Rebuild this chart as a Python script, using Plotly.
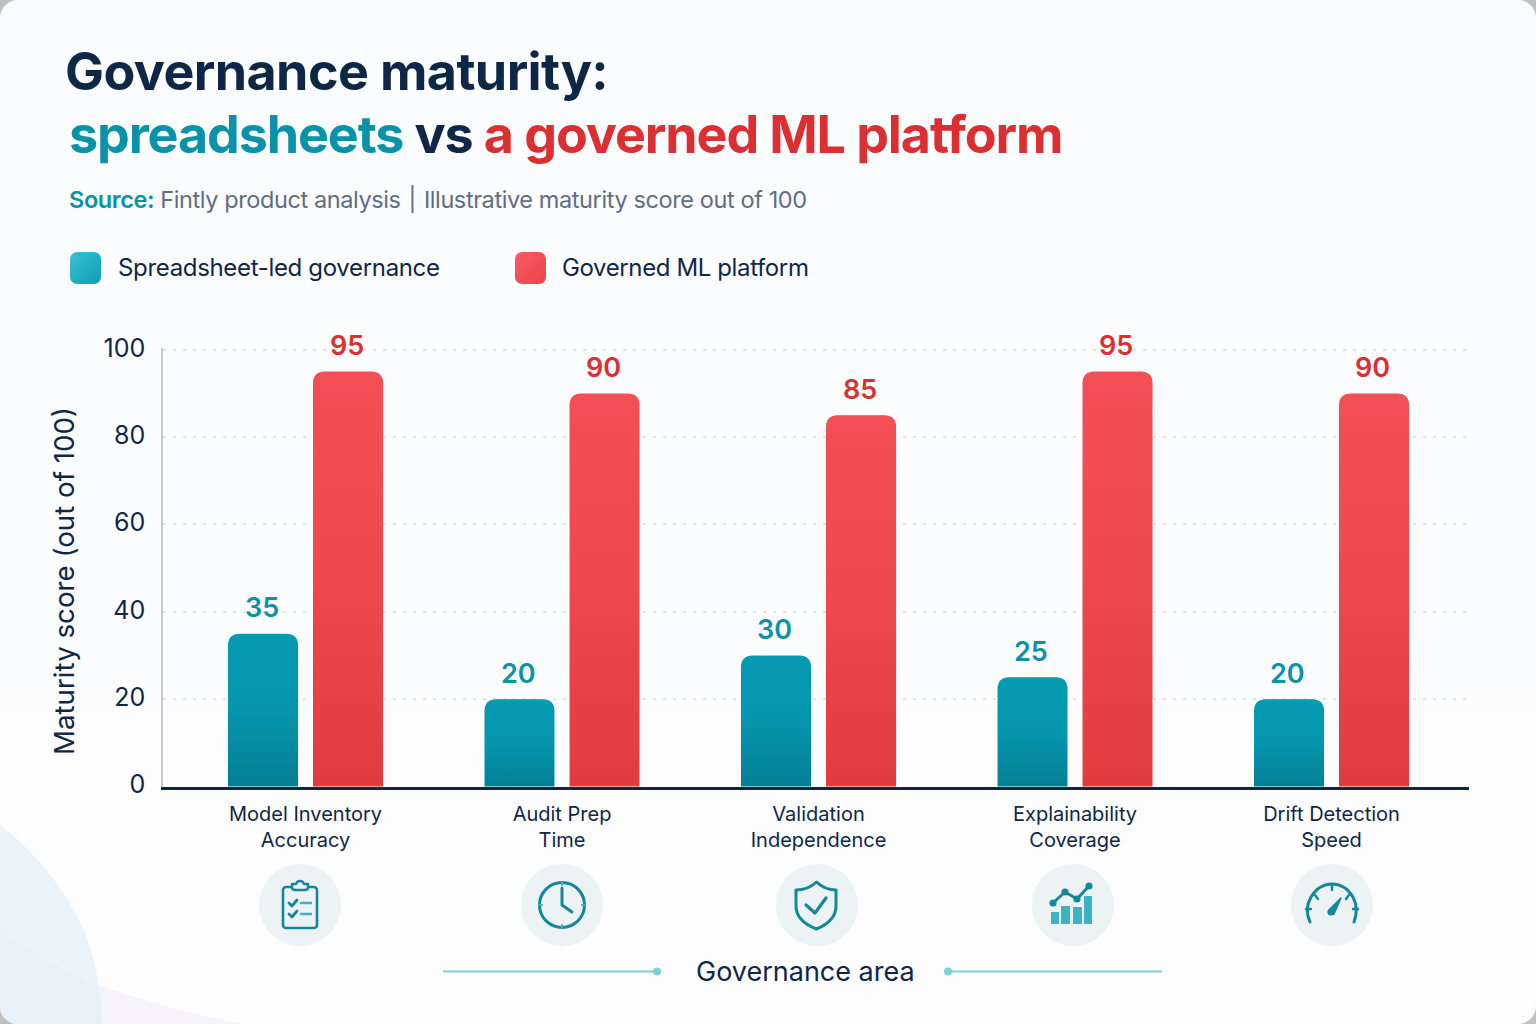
import base64
import plotly.graph_objects as go

categories = ["Model Inventory<br>Accuracy", "Audit Prep<br>Time", "Validation<br>Independence",
              "Explainability<br>Coverage", "Drift Detection<br>Speed"]
spreadsheet_scores = [35, 20, 30, 25, 20]
platform_scores = [95, 90, 85, 95, 90]
y_ticks = [0, 20, 40, 60, 80, 100]

NAVY = "#0F2747"
TEAL = "#0A93A8"
RED = "#DC2F32"
FONT = "Inter"

W, H = 1536, 1024
# plot area in page pixels
LEFT, RIGHT, TOP, BOTTOM = 163, 1469, 348, 787
Y_MIN, Y_MAX = -0.1, 100.4
X_MIN, X_MAX = -0.5556, 4.536
PX_PER_UNIT = (BOTTOM - TOP) / (Y_MAX - Y_MIN)
BAR_PX = 70
OFFSET_PX = 42.5


def px(x):
    return (x - LEFT) / (RIGHT - LEFT)


def py(y):
    return (BOTTOM - y) / (BOTTOM - TOP)


def svg_uri(svg):
    return "data:image/svg+xml;base64," + base64.b64encode(svg.encode()).decode()


def page_image(svg, x, y, w, h, layer="above"):
    return dict(source=svg_uri(svg), xref="paper", yref="paper", x=px(x), y=py(y),
                sizex=w / (RIGHT - LEFT), sizey=h / (BOTTOM - TOP),
                xanchor="left", yanchor="top", sizing="stretch", layer=layer)


def note(text, x, y, size, color=NAVY, anchor="left", weight=400, angle=0, spacing=0):
    if spacing:
        text = f'<span style="letter-spacing:{spacing}px">{text}</span>'
    return dict(text=text, xref="paper", yref="paper", x=px(x), y=py(y), showarrow=False,
                xanchor=anchor, yanchor="middle", textangle=angle,
                font=dict(family=FONT, size=size, color=color, weight=weight))


def bar_overlay(i, value, side, c_top, c_mid, c_bottom):
    # rounded gradient laid over a bar, placed in data coordinates
    h = value * PX_PER_UNIT
    w = BAR_PX
    svg = (f'<svg xmlns="http://www.w3.org/2000/svg" width="{w}" height="{h:.1f}" '
           f'viewBox="0 0 {w} {h:.1f}" preserveAspectRatio="none"><defs>'
           f'<linearGradient id="g" x1="0" y1="0" x2="0" y2="1"><stop offset="0" stop-color="{c_top}"/>'
           f'<stop offset="0.5" stop-color="{c_mid}"/><stop offset="1" stop-color="{c_bottom}"/></linearGradient></defs>'
           f'<path fill="url(#g)" d="M0 {h:.1f}V12Q0 0 12 0H{w-12}Q{w} 0 {w} 12V{h:.1f}Z"/></svg>')
    unit = (RIGHT - LEFT) / (X_MAX - X_MIN)
    return dict(source=svg_uri(svg), xref="x", yref="y", x=i + side * OFFSET_PX / unit, y=value,
                sizex=w / unit, sizey=value, xanchor="center", yanchor="top",
                sizing="stretch", layer="above")


background = f'''<svg xmlns="http://www.w3.org/2000/svg" width="{W}" height="{H}" viewBox="0 0 {W} {H}">
<defs><linearGradient id="bg" x1="0" y1="0" x2="0" y2="1"><stop offset="0" stop-color="#FBFCFD"/>
<stop offset="1" stop-color="#FDFDFE"/></linearGradient>
<clipPath id="card"><rect width="{W}" height="{H}" rx="18"/></clipPath></defs>
<rect width="{W}" height="{H}" fill="#BFC0C2"/>
<g clip-path="url(#card)">
<rect width="{W}" height="{H}" fill="url(#bg)"/>
<path d="M0 825C40 855 90 915 98 983L102 1024H0Z" fill="#EAF3FA"/>
<path d="M0 932C35 952 65 970 99 985C150 1003 195 1015 245 1024H102L99 985Z" fill="#F6F3FC"/>
<path d="M0 932C35 952 65 970 99 985L102 1024H0Z" fill="#E8F0FA"/>
</g></svg>'''

ICON_HEAD = '<svg xmlns="http://www.w3.org/2000/svg" width="64" height="64" viewBox="0 0 64 64" fill="none" stroke-linecap="round" stroke-linejoin="round">'
D = "#13879B"
L = "#3BB3C3"
icon_svgs = [
    f'{ICON_HEAD}<rect x="15" y="14" width="34" height="41" rx="3" stroke="{D}" stroke-width="2.6"/>'
    f'<path d="M24 14V11H28Q29 8 32 8T36 11H40V14Q40 17 37 17H27Q24 17 24 14Z" fill="#EDF2F4" stroke="{D}" stroke-width="2.4"/>'
    f'<path d="M21 30L24 33L29 27M21 41L24 44L29 38" stroke="{D}" stroke-width="2.8"/>'
    f'<path d="M33 30H43M33 41H43" stroke="{L}" stroke-width="2.4"/></svg>',
    f'{ICON_HEAD}<circle cx="32" cy="32" r="22.5" stroke="{D}" stroke-width="3"/>'
    f'<path d="M32 15V32L42 39" stroke="{D}" stroke-width="3"/>'
    f'<path d="M32 9V12M32 52V55M9 32H12M52 32H55" stroke="{L}" stroke-width="2"/></svg>',
    f'{ICON_HEAD}<path d="M31.5 9Q40 17 51 17V33Q51 48 31.5 56Q11 48 11 33V17Q23 17 31.5 9Z" stroke="{D}" stroke-width="3"/>'
    f'<path d="M21 32L30 40L41 25" stroke="{D}" stroke-width="3.2"/></svg>',
    f'{ICON_HEAD}<path d="M10 51V39H18V51ZM20 51V33H29V51ZM32 51V34H41V51ZM43 51V23H51V51Z" fill="{L}" stroke="none"/>'
    f'<path d="M12 30L24 19L36 26L48 13" stroke="{D}" stroke-width="3"/>'
    f'<g fill="{D}" stroke="none"><circle cx="12" cy="30" r="3.6"/><circle cx="24" cy="19" r="3.6"/>'
    f'<circle cx="36" cy="26" r="3.6"/><circle cx="48" cy="13" r="3.6"/></g></svg>',
    f'{ICON_HEAD}<path d="M10 49Q4 36 11 24Q19 11 32 11Q45 11 53 24Q59 36 54 49" stroke="{D}" stroke-width="3"/>'
    f'<path d="M32 11V17M15 22L18 26M49 22L46 26M6 36H11M53 36H58" stroke="{D}" stroke-width="2.4"/>'
    f'<path d="M29 37L41 25L34 41Z" fill="{D}" stroke="{D}" stroke-width="1.6"/><circle cx="31" cy="39" r="3.6" fill="{D}" stroke="none"/></svg>',
]
icon_centers = [300, 562, 817, 1073, 1332]
icon_left = [268, 530, 785, 1041, 1300]


def swatch(c1, c2):
    return (f'<svg xmlns="http://www.w3.org/2000/svg" width="30" height="32" viewBox="0 0 30 32"><defs>'
            f'<linearGradient id="s" x1="0" y1="0" x2="1" y2="1"><stop offset="0" stop-color="{c1}"/>'
            f'<stop offset="1" stop-color="{c2}"/></linearGradient></defs>'
            f'<rect width="30" height="32" rx="7" fill="url(#s)"/></svg>')


fig = go.Figure()
fig.add_trace(go.Bar(x=list(range(5)), y=spreadsheet_scores, name="Spreadsheet-led governance",
                     marker_color="#0797AE"))
fig.add_trace(go.Bar(x=list(range(5)), y=platform_scores, name="Governed ML platform",
                     marker_color="#EE474C"))

images = [page_image(background, 0, 0, W, H, layer="below")]
shapes = []
annotations = []

for i in range(5):
    images.append(bar_overlay(i, spreadsheet_scores[i], -1, "#059BB1", "#0596AD", "#047F96"))
    images.append(bar_overlay(i, platform_scores[i], 1, "#F44F54", "#EE484C", "#E03C3E"))
    for values, side, color in [(spreadsheet_scores, -1, TEAL), (platform_scores, 1, RED)]:
        annotations.append(dict(text=str(values[i]), x=i, y=values[i], xref="x", yref="y",
                                xshift=side * OFFSET_PX - 1.5, yshift=26, showarrow=False,
                                yanchor="middle", xanchor="center",
                                font=dict(family=FONT, size=27, color=color, weight=600)))

for cx, left, svg in zip(icon_centers, icon_left, icon_svgs):
    shapes.append(dict(type="circle", xref="paper", yref="paper", x0=px(cx - 41), x1=px(cx + 41),
                       y0=py(864), y1=py(946), fillcolor="#EDF2F4", line_width=0, layer="below"))
    images.append(page_image(svg, left, 873, 64, 64))

# connector either side of the x axis label
for x0, x1, dot in [(443, 657, 657), (948, 1162, 948)]:
    shapes.append(dict(type="line", xref="paper", yref="paper", x0=px(x0), x1=px(x1), y0=py(971.5), y1=py(971.5),
                       line=dict(color="#7FD0D8", width=1.8)))
    shapes.append(dict(type="circle", xref="paper", yref="paper", x0=px(dot - 4), x1=px(dot + 4),
                       y0=py(967.5), y1=py(975.5), fillcolor="#7FD0D8", line_width=0))

images.append(page_image(swatch("#3CC2D3", "#0C9DB3"), 70, 252, 31, 32))
images.append(page_image(swatch("#F85B62", "#EB4449"), 515, 252, 31, 32))

annotations += [
    note("Governance maturity:", 63, 71, 52, weight=700, spacing=-0.6),
    note(f'<span style="color:{TEAL}">spreadsheets</span> vs <span style="color:{RED}">a governed ML platform</span>',
         67, 134, 52, weight=700, spacing=-1.1),
    note(f'<span style="color:{TEAL};font-weight:600">Source:</span> Fintly product analysis \u200a|\u200a Illustrative maturity score out of 100',
         67, 200, 23.5, color="#5E6E84", spacing=-0.4),
    note("Spreadsheet-led governance", 116, 267, 24, spacing=-0.33),
    note("Governed ML platform", 560, 267, 24, spacing=-0.38),
    note("Governance area", 805, 971, 27, anchor="center"),
    note("Maturity score (out of 100)", 64, 581, 27.7, anchor="center", angle=-90),
]

fig.update_layout(
    width=W, height=H,
    margin=dict(l=LEFT, r=W - RIGHT, t=TOP, b=H - BOTTOM),
    paper_bgcolor="rgba(0,0,0,0)", plot_bgcolor="rgba(0,0,0,0)",
    barmode="group", bargap=0.337, bargroupgap=0.176, barcornerradius=12,
    showlegend=False,
    images=images, shapes=shapes, annotations=annotations,
    font=dict(family=FONT, color=NAVY),
)
fig.update_xaxes(range=[X_MIN, X_MAX], tickvals=list(range(5)), ticktext=categories,
                 tickfont=dict(size=20, color=NAVY), ticks="", showgrid=False, zeroline=False,
                 showline=True, linecolor=NAVY, linewidth=2.5, ticklabelstandoff=7)
fig.update_yaxes(range=[Y_MIN, Y_MAX], tickvals=y_ticks, tickfont=dict(size=25, color=NAVY), ticks="",
                 showgrid=True, gridcolor="#E0E4E9", gridwidth=1.5, griddash="2.5px,7.5px", zeroline=False,
                 showline=True, linecolor="#C3CBD5", linewidth=1.5, ticklabelstandoff=11, ticklabelshift=-2)

fig.write_html("out.html", config={"displayModeBar": False},
               post_script="document.body.style.margin='0';document.body.style.overflow='hidden';")
